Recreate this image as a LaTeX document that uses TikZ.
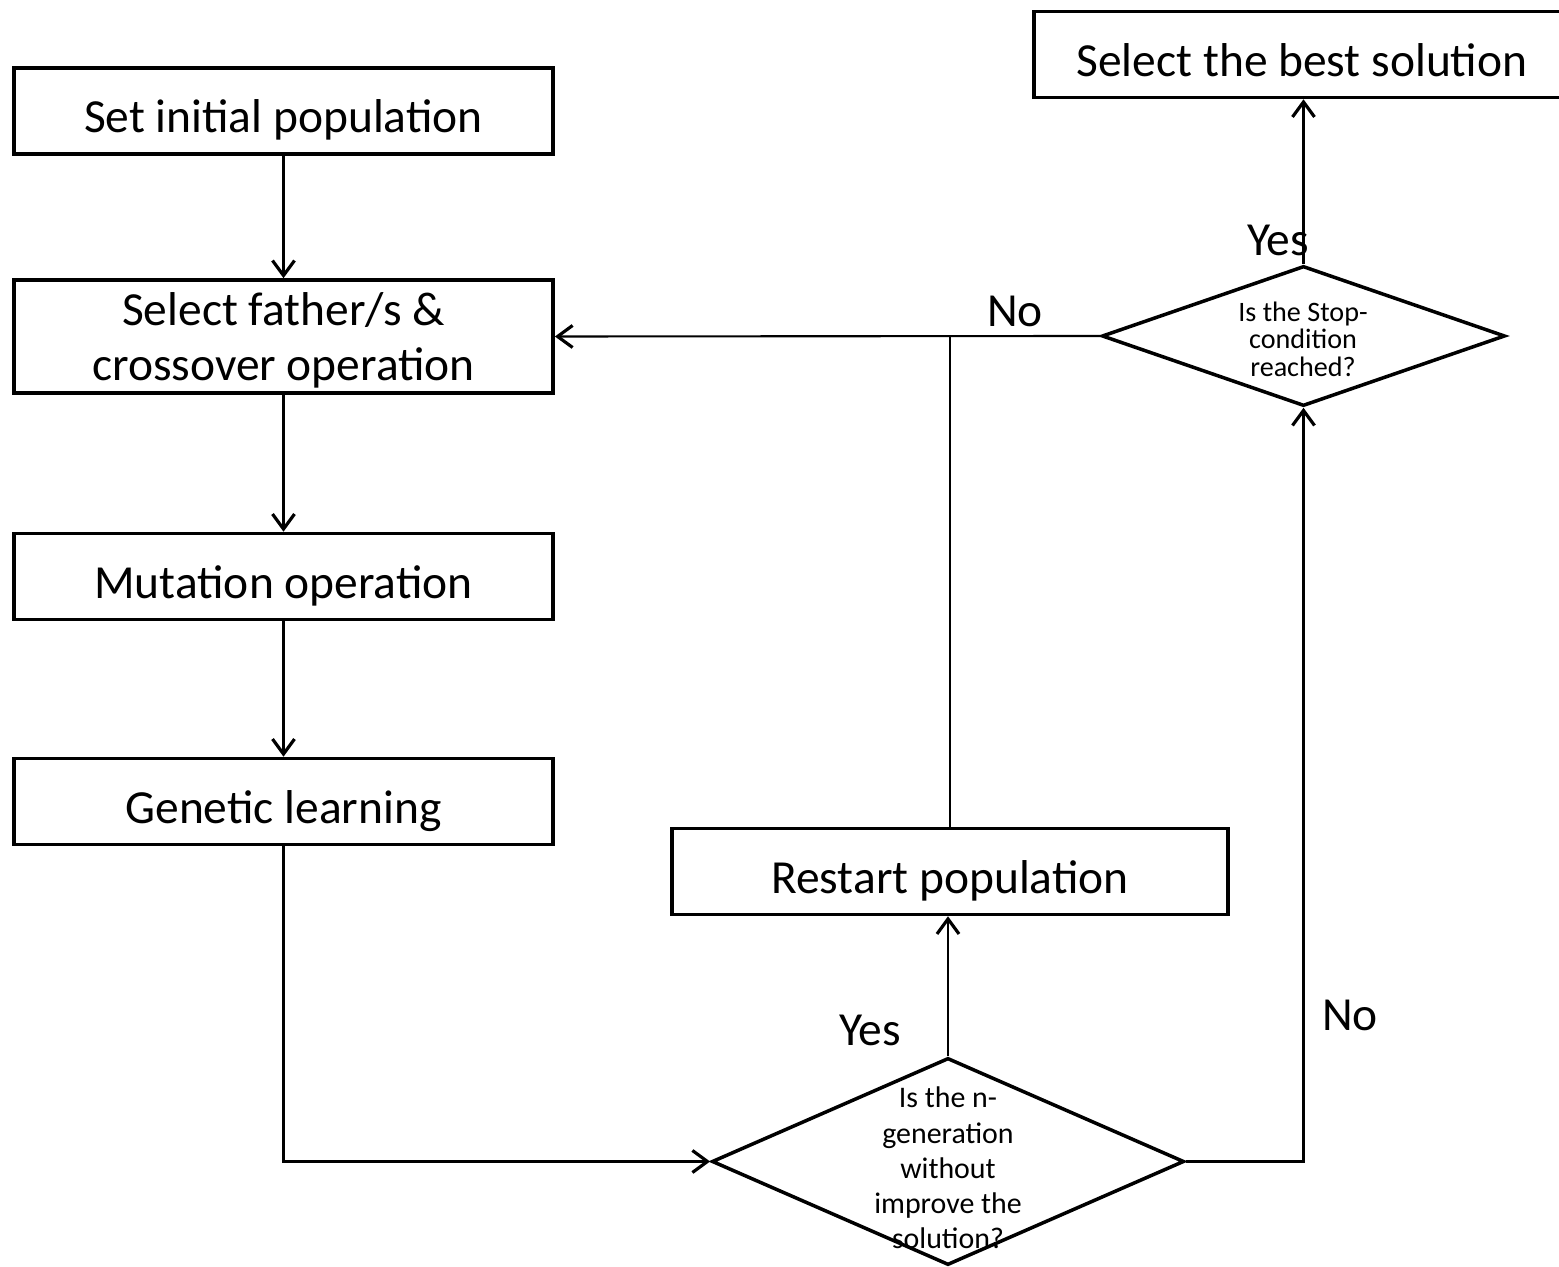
\documentclass[tikz,border=0pt]{standalone}
\usepackage{fontspec}
\setmainfont{Carlito}
\usetikzlibrary{shapes.geometric,arrows.meta}

\tikzset{
  procbox/.style={draw, line width=1pt, minimum width=5.39cm, minimum height=0.86cm,
    inner sep=0pt, align=center, font=\fontsize{13.5}{15.6}\selectfont},
  oneline/.style={procbox, text height=12.5pt, text depth=0pt},
  decbox/.style={draw, diamond, line width=1pt, inner sep=0pt},
  dectext/.style={align=center, inner sep=0pt},
  lbl/.style={font=\fontsize{13.5}{15.6}\selectfont, inner sep=0pt},
  ln/.style={line width=0.6pt},
  arr/.style={ln, -{Straight Barb[length=1.5mm,width=2.2mm,line width=0.9pt]}}
}

\begin{document}
\begin{tikzpicture}[x=0.01cm,y=-0.01cm]
\useasboundingbox (0,0) rectangle (1559,1267);
% left column
\node[oneline] (init) at (283.5,111) {Set initial population};
\node[procbox, minimum height=1.13cm, text depth=0pt] (cross) at (283.5,336.5) {Select father/s \&\\crossover operation};
\node[oneline] (mut) at (283.5,576.5) {Mutation operation};
\node[oneline] (gen) at (283.5,801.5) {Genetic learning};
% right part
\node[oneline, minimum width=5.56cm] (restart) at (950,871.5) {Restart population};
\node[oneline, minimum width=5.36cm] (best) at (1302,54.5) {Select the best solution};
\node[decbox, minimum width=4.03cm, minimum height=1.40cm] (stop) at (1303.5,336) {};
\node[dectext, font=\fontsize{8}{7.8}\selectfont] (stoptxt) at (1303,339) {Is the Stop-\\condition\\reached?};
\node[decbox, minimum width=4.72cm, minimum height=2.07cm] (ngen) at (948,1161.5) {};
\node[dectext, font=\fontsize{8.5}{10}\selectfont] (ngentxt) at (948,1168) {Is the n-\\generation\\without\\improve the\\solution?};
% labels
\node[lbl] (yes1) at (1278,240) {Yes};
\node[lbl] (no1) at (1015,311) {No};
\node[lbl] (yes2) at (870,1030) {Yes};
\node[lbl] (no2) at (1350,1015) {No};
% connectors
\draw[arr] (init) -- (cross);
\draw[arr] (cross) -- (mut);
\draw[arr] (mut) -- (gen);
\draw[arr] (gen.south) |- (ngen.west);
\draw[arr] (ngen.north) -- (ngen.north |- restart.south);
\draw[arr] (ngen.east) -| (stop.south);
\draw[arr] (stop.west) -- (cross.east);
\coordinate (join) at (restart.north |- stop.west);
\draw[ln] (restart.north) -- (join);
\draw[arr] (stop.north) -- (stop.north |- best.south);
\end{tikzpicture}
\end{document}
